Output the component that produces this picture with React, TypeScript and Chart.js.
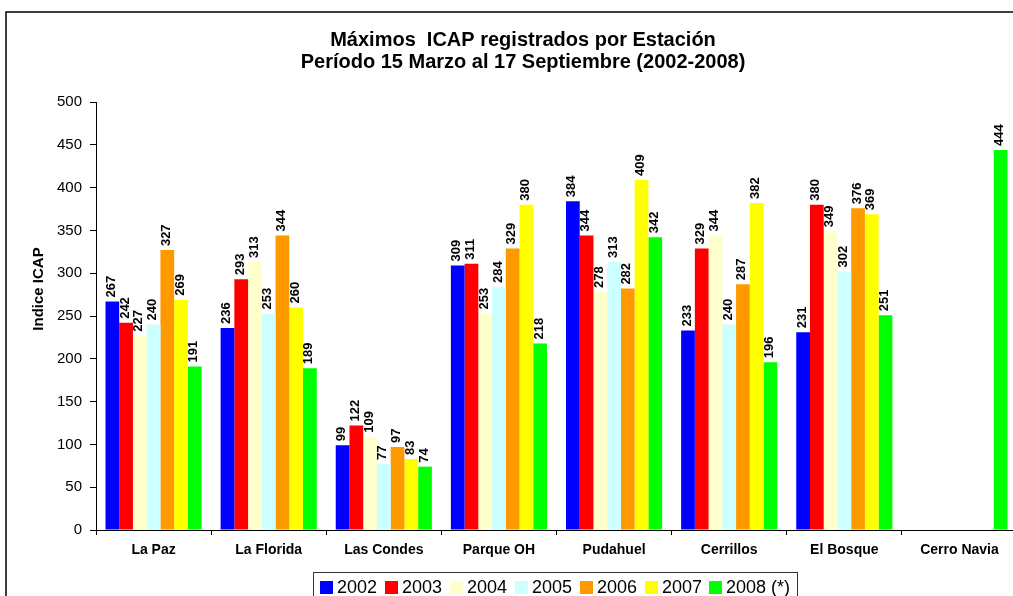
import React, { useEffect, useRef } from "react";
import { Chart, registerables } from "chart.js";

Chart.register(...registerables);

const categories = ["La Paz", "La Florida", "Las Condes", "Parque OH", "Pudahuel", "Cerrillos", "El Bosque", "Cerro Navia"];
const seriesNames = ["2002", "2003", "2004", "2005", "2006", "2007", "2008 (*)"];
const seriesColors = ["#0000FF", "#FF0000", "#FFFFCC", "#CCFFFF", "#FF9900", "#FFFF00", "#00FF00"];
const v2002 = [267, 236, 99, 309, 384, 233, 231, null];
const v2003 = [242, 293, 122, 311, 344, 329, 380, null];
const v2004 = [227, 313, 109, 253, 278, 344, 349, null];
const v2005 = [240, 253, 77, 284, 313, 240, 302, null];
const v2006 = [327, 344, 97, 329, 282, 287, 376, null];
const v2007 = [269, 260, 83, 380, 409, 382, 369, null];
const v2008 = [191, 189, 74, 218, 342, 196, 251, 444];
const seriesValues = [v2002, v2003, v2004, v2005, v2006, v2007, v2008];
const yTicks = [0, 50, 100, 150, 200, 250, 300, 350, 400, 450, 500];
const titleLines = ["Máximos  ICAP registrados por Estación", "Período 15 Marzo al 17 Septiembre (2002-2008)"];
const yTitle = "Indice ICAP";

const FONT = "'Liberation Sans', Arial, sans-serif";
const CW = 1045;
const CH = 600;

const decorPlugin = {
  id: "decor",
  beforeDraw(chart: any) {
    const ctx = chart.ctx;
    ctx.save();
    ctx.fillStyle = "#fff";
    ctx.fillRect(0, 0, chart.width, chart.height);
    ctx.strokeStyle = "#000";
    ctx.lineWidth = 1.5;
    ctx.strokeRect(6, 12, 1032, 620);
    ctx.restore();
  },
  afterDraw(chart: any) {
    const ctx = chart.ctx;
    ctx.save();
    // title
    ctx.fillStyle = "#000";
    ctx.font = `bold 20px ${FONT}`;
    ctx.textAlign = "center";
    ctx.textBaseline = "middle";
    ctx.fillText(titleLines[0], 523, 40);
    ctx.fillText(titleLines[1], 523, 62);
    // y title
    ctx.save();
    ctx.translate(39, 289);
    ctx.rotate(-Math.PI / 2);
    ctx.font = `bold 15px ${FONT}`;
    ctx.fillText(yTitle, 0, 0);
    ctx.restore();
    // bar labels
    ctx.font = `bold 13px ${FONT}`;
    ctx.textAlign = "left";
    ctx.textBaseline = "middle";
    chart.data.datasets.forEach((ds: any, di: number) => {
      const meta = chart.getDatasetMeta(di);
      meta.data.forEach((bar: any, i: number) => {
        const v = ds.data[i];
        if (v === null || v === undefined) return;
        ctx.save();
        ctx.translate(bar.x - 1, bar.y - 4);
        ctx.rotate(-Math.PI / 2);
        ctx.fillText(String(v), 0, 0);
        ctx.restore();
      });
    });
    // legend
    const lx = 313, ly = 572, lw = 484, lh = 40;
    ctx.strokeStyle = "#333";
    ctx.lineWidth = 1;
    ctx.fillStyle = "#fff";
    ctx.fillRect(lx, ly, lw, lh);
    ctx.strokeRect(lx + 0.5, ly + 0.5, lw, lh);
    const xs = [320, 385, 450, 515, 580, 645, 709];
    ctx.font = `18px ${FONT}`;
    ctx.textBaseline = "middle";
    ctx.textAlign = "left";
    seriesNames.forEach((n, i) => {
      ctx.fillStyle = seriesColors[i];
      ctx.fillRect(xs[i], 581, 13, 13);
      ctx.fillStyle = "#000";
      ctx.fillText(n, xs[i] + 17, 588);
    });
    ctx.restore();
  },
};

export default function App() {
  const ref = useRef<HTMLCanvasElement>(null);
  useEffect(() => {
    const canvas = ref.current;
    if (!canvas) return;
    const chart = new Chart(canvas, {
      type: "bar",
      data: {
        labels: categories,
        datasets: seriesValues.map((vals, i) => ({
          label: seriesNames[i],
          data: vals,
          backgroundColor: seriesColors[i],
          borderWidth: 0,
          barPercentage: 1,
          categoryPercentage: 0.835,
        })),
      },
      options: {
        responsive: false,
        animation: false,
        devicePixelRatio: 1,
        layout: { padding: { left: 0, top: 102, right: CW - 1017, bottom: 0 } },
        plugins: { legend: { display: false }, title: { display: false }, tooltip: { enabled: false } },
        scales: {
          x: {
            grid: { display: true, drawOnChartArea: false, drawTicks: true, tickLength: 5, color: "#000", offset: true },
            border: { color: "#000", width: 1 },
            ticks: { color: "#000", font: { family: FONT, size: 14, weight: "bold" }, padding: 7, maxRotation: 0, autoSkip: false },
            afterFit: (s: any) => { s.height = CH - 530; },
          },
          y: {
            min: 0,
            max: 500,
            afterBuildTicks: (s: any) => { s.ticks = yTicks.map((v) => ({ value: v })); },
            grid: { display: true, drawOnChartArea: false, drawTicks: true, tickLength: 6, color: "#000" },
            border: { color: "#000", width: 1 },
            ticks: { color: "#000", font: { family: FONT, size: 15 }, padding: 8 },
            afterFit: (s: any) => { s.width = 96; },
          },
        },
      },
      plugins: [decorPlugin],
    });
    return () => chart.destroy();
  }, []);
  return (
    <div style={{ position: "fixed", left: 0, top: 0, width: 1013, height: 596, overflow: "hidden", background: "#fff" }}>
      <canvas ref={ref} width={CW} height={CH} style={{ width: CW, height: CH, display: "block" }} />
    </div>
  );
}
